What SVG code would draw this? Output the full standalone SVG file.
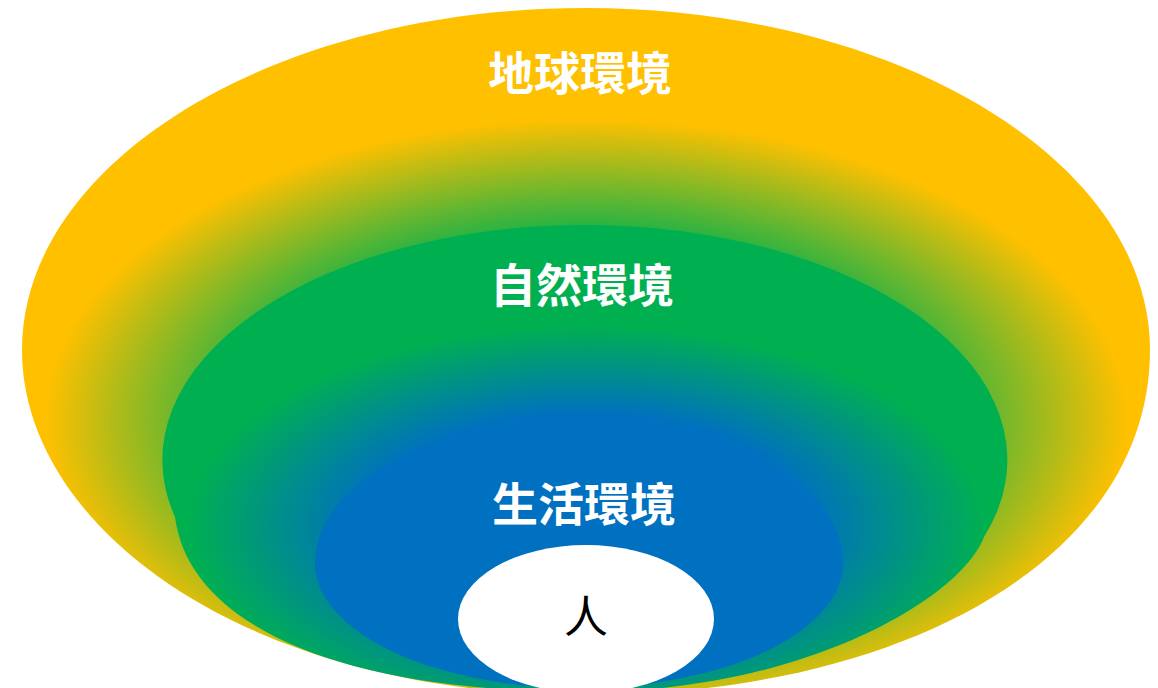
<svg xmlns="http://www.w3.org/2000/svg" width="1158" height="688" viewBox="0 0 1158 688">
  <defs>
    <radialGradient id="gOuter" gradientUnits="userSpaceOnUse" cx="586" cy="420" r="310" gradientTransform="translate(586 420) scale(1.8 1) translate(-586 -420)">
      <stop offset="0.56" stop-color="#00B050"/>
      <stop offset="0.97" stop-color="#FFC000"/>
    </radialGradient>
    <radialGradient id="gNature" gradientUnits="userSpaceOnUse" cx="586" cy="525" r="200" gradientTransform="translate(586 525) scale(2 1) translate(-586 -525)">
      <stop offset="0.55" stop-color="#0070C0"/>
      <stop offset="1" stop-color="#00B050"/>
    </radialGradient>
  </defs>
  <style>
    .lbl { font-family: "Noto Sans CJK TC", "Noto Sans CJK SC", sans-serif; font-weight: bold; font-size: 46px; fill: #FFFFFF; text-anchor: middle; }
    .person { font-family: "Noto Sans CJK TC", "Noto Sans CJK SC", sans-serif; font-weight: normal; font-size: 44px; fill: #000000; text-anchor: middle; }
  </style>
  <rect width="1158" height="688" fill="#FFFFFF"/>
  <g id="earth">
    <path d="M 586,8 C 897,8 1150,161 1150,350 C 1150,560 900,695 586,695 C 250,695 22,530 22,350 C 22,161 275,8 586,8 Z" fill="url(#gOuter)"/>
    <text class="lbl" x="580" y="90">地球環境</text>
  </g>
  <g id="nature">
    <path d="M 175,517 A 422.5 235 0 1 1 984,537 C 960,600 800,692 586,692 C 350,692 190,630 175,517 Z" fill="url(#gNature)"/>
    <text class="lbl" x="582" y="302">自然環境</text>
  </g>
  <g id="living">
    <path d="M 315,563 A 264 143 0 0 1 843,563 A 264 125 0 0 1 315,563 Z" fill="#0070C0"/>
    <text class="lbl" x="584" y="521">生活環境</text>
  </g>
  <g id="person">
    <ellipse cx="586" cy="619" rx="128" ry="74" fill="#FFFFFF"/>
    <text class="person" x="586" y="633">人</text>
  </g>
  <g id="connectors"/>
</svg>
